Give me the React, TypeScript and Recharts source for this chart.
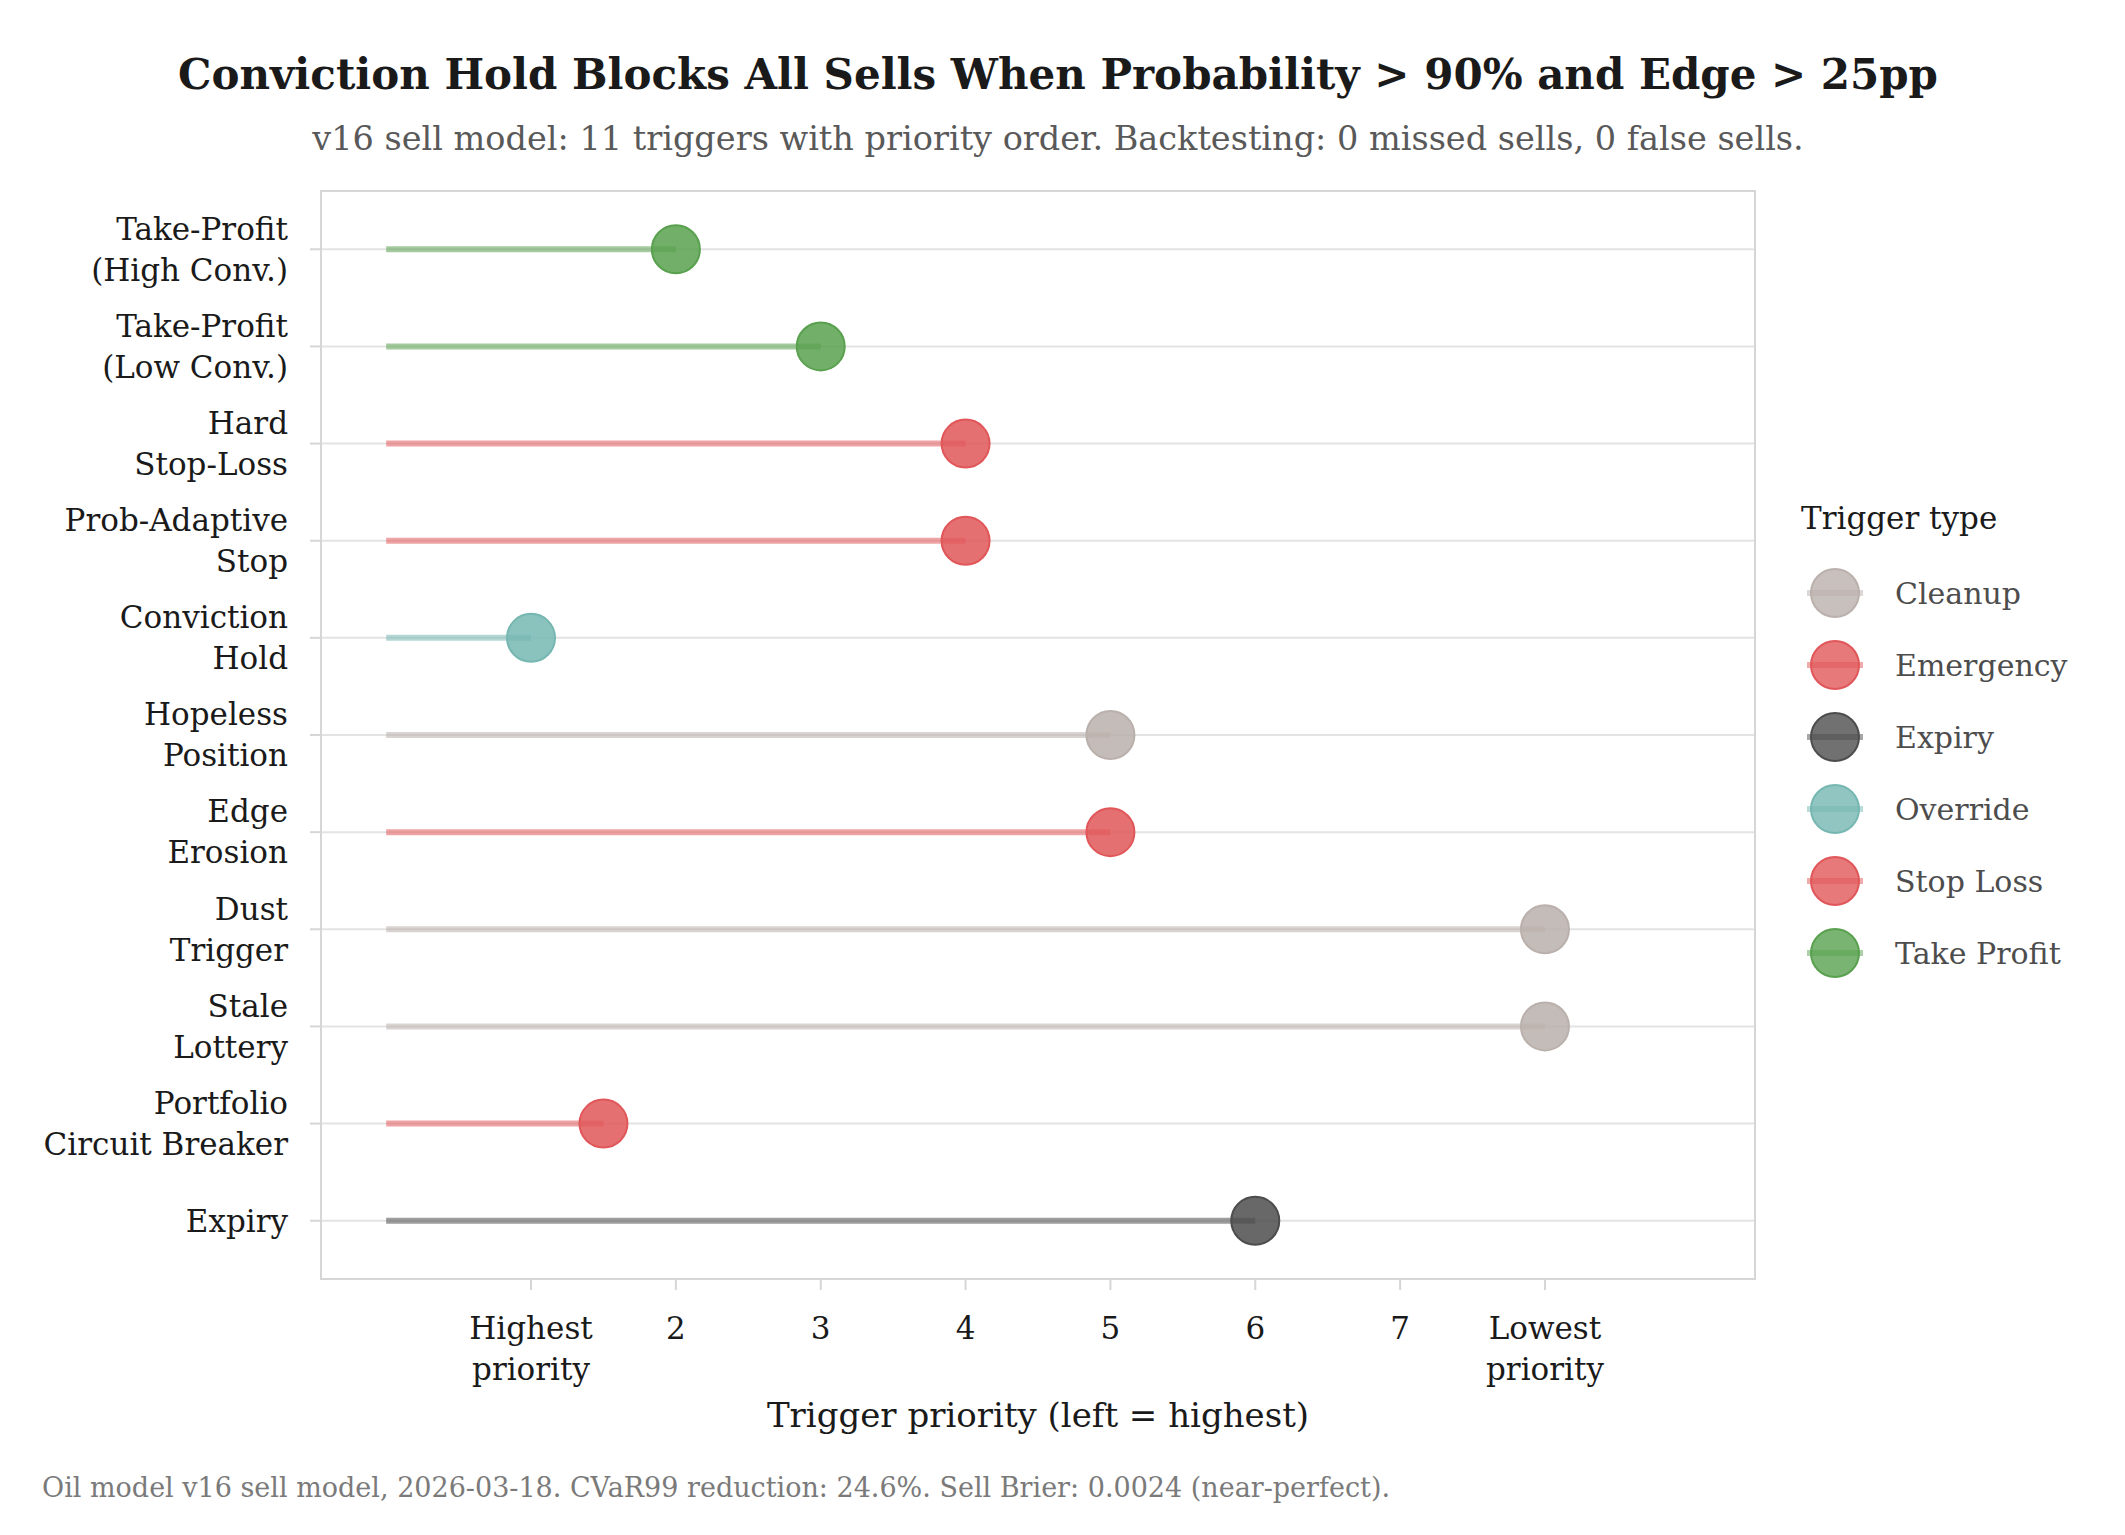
import React from "react"
import { CartesianGrid, ReferenceArea, Scatter, ScatterChart, XAxis, YAxis } from "recharts"

const triggerLabels = [
  "Take-Profit\n(High Conv.)",
  "Take-Profit\n(Low Conv.)",
  "Hard\nStop-Loss",
  "Prob-Adaptive\nStop",
  "Conviction\nHold",
  "Hopeless\nPosition",
  "Edge\nErosion",
  "Dust\nTrigger",
  "Stale\nLottery",
  "Portfolio\nCircuit Breaker",
  "Expiry",
]
const priorities = [2, 3, 4, 4, 1, 5, 5, 8, 8, 1.5, 6]
const triggerTypes = [
  "Take Profit",
  "Take Profit",
  "Stop Loss",
  "Stop Loss",
  "Override",
  "Cleanup",
  "Stop Loss",
  "Cleanup",
  "Cleanup",
  "Emergency",
  "Expiry",
]

const typeNames = ["Cleanup", "Emergency", "Expiry", "Override", "Stop Loss", "Take Profit"]
const typeColors = ["#BAB0AC", "#E15759", "#4D4D4D", "#76B7B2", "#E15759", "#59A14F"]

const xTicks = [1, 2, 3, 4, 5, 6, 7, 8]
const xTickLabels = ["Highest\npriority", "2", "3", "4", "5", "6", "7", "Lowest\npriority"]
const rowTicks = triggerLabels.map((_, i) => i + 1)

const FONT = "'DejaVu Serif', 'Liberation Serif', serif"

const colorOf = (t: string) => typeColors[typeNames.indexOf(t)]

const YTick = (props: any) => {
  const { x, y, payload } = props
  const lines = triggerLabels[payload.value - 1].split("\n")
  const lh = 41
  const start = y - ((lines.length - 1) * lh) / 2
  return (
    <text x={x} y={start} textAnchor="end" fontSize={31} fill="#1a1a1a" fontFamily={FONT}>
      {lines.map((l, i) => (
        <tspan key={i} x={x} dy={i === 0 ? "0.35em" : lh}>
          {l}
        </tspan>
      ))}
    </text>
  )
}

const XTick = (props: any) => {
  const { x, y, payload } = props
  const lines = xTickLabels[xTicks.indexOf(payload.value)].split("\n")
  return (
    <text x={x} y={y} textAnchor="middle" fontSize={31} fill="#1a1a1a" fontFamily={FONT}>
      {lines.map((l, i) => (
        <tspan key={i} x={x} dy={i === 0 ? "0.71em" : 41}>
          {l}
        </tspan>
      ))}
    </text>
  )
}

const LegendBox = () => (
  <div style={{ position: "absolute", left: 1801, top: 498, fontFamily: FONT }}>
    <div style={{ fontSize: 31, color: "#1a1a1a", height: 40, lineHeight: "40px", marginBottom: 19 }}>
      Trigger type
    </div>
    {typeNames.map((t, i) => (
      <div key={t} style={{ display: "flex", alignItems: "center", height: 72 }}>
        <svg width={62} height={60} style={{ marginLeft: 3 }}>
          <line x1={3} x2={59} y1={30} y2={30} stroke={typeColors[i]} strokeOpacity={0.5} strokeWidth={6} />
          <circle cx={31} cy={30} r={24} fill={typeColors[i]} fillOpacity={0.8} stroke={typeColors[i]} strokeWidth={2} />
        </svg>
        <span style={{ marginLeft: 29, fontSize: 30, color: "#4d4d4d" }}>{t}</span>
      </div>
    ))}
  </div>
)

export default function App() {
  const segments = priorities.map((p, i) => [
    { pos: 0, row: i + 1 },
    { pos: p, row: i + 1 },
  ])
  const pointsByType = typeNames.map((t) =>
    priorities
      .map((p, i) => ({ pos: p, row: i + 1, type: triggerTypes[i] }))
      .filter((d) => d.type === t)
  )

  return (
    <div style={{ position: "absolute", left: 0, top: 0, width: 2125, height: 1535, background: "#fff" }}>
      <div
        style={{
          position: "absolute",
          top: 50,
          left: 0,
          width: 2116,
          textAlign: "center",
          fontFamily: FONT,
          fontWeight: "bold",
          fontSize: 42,
          color: "#1a1a1a",
        }}
      >
        Conviction Hold Blocks All Sells When Probability &gt; 90% and Edge &gt; 25pp
      </div>
      <div
        style={{
          position: "absolute",
          top: 119,
          left: 0,
          width: 2116,
          textAlign: "center",
          fontFamily: FONT,
          fontSize: 33.5,
          color: "#595959",
        }}
      >
        v16 sell model: 11 triggers with priority order. Backtesting: 0 missed sells, 0 false sells.
      </div>

      <div style={{ position: "absolute", left: 0, top: 0 }}>
        <ScatterChart width={2125} height={1535} margin={{ top: 191, right: 370, bottom: 106, left: 0 }}>
          <CartesianGrid vertical={false} stroke="#e3e3e3" strokeWidth={2} />
          <ReferenceArea
            x1={-0.45}
            x2={9.45}
            y1={0.4}
            y2={11.6}
            fill="none"
            stroke="#d6d6d6"
            strokeWidth={2}
            ifOverflow="visible"
          />
          <XAxis
            type="number"
            dataKey="pos"
            domain={[-0.45, 9.45]}
            ticks={xTicks}
            height={150}
            axisLine={false}
            tickLine={{ stroke: "#d6d6d6", strokeWidth: 2 }}
            tickSize={11}
            tickMargin={27}
            tick={<XTick />}
            interval={0}
            allowDataOverflow
          />
          <YAxis
            type="number"
            dataKey="row"
            domain={[0.4, 11.6]}
            reversed
            ticks={rowTicks}
            width={321}
            axisLine={false}
            tickLine={{ stroke: "#d6d6d6", strokeWidth: 2 }}
            tickSize={11}
            tickMargin={22}
            tick={<YTick />}
            interval={0}
            allowDataOverflow
          />
          {segments.map((seg, i) => (
            <Scatter
              key={"seg" + i}
              data={seg}
              line={{ stroke: colorOf(triggerTypes[i]), strokeWidth: 6, strokeOpacity: 0.55 }}
              shape={() => <g />}
              isAnimationActive={false}
              legendType="none"
            />
          ))}
          {pointsByType.map((pts, i) => (
            <Scatter
              key={typeNames[i]}
              name={typeNames[i]}
              data={pts}
              isAnimationActive={false}
              shape={(p: any) => (
                <circle
                  cx={p.cx}
                  cy={p.cy}
                  r={24}
                  fill={typeColors[i]}
                  fillOpacity={0.85}
                  stroke={typeColors[i]}
                  strokeWidth={2}
                />
              )}
            />
          ))}
        </ScatterChart>
      </div>

      <LegendBox />

      <div
        style={{
          position: "absolute",
          top: 1395,
          left: 321,
          width: 1434,
          textAlign: "center",
          fontFamily: FONT,
          fontSize: 34,
          color: "#1a1a1a",
        }}
      >
        Trigger priority (left = highest)
      </div>
      <div
        style={{
          position: "absolute",
          top: 1472,
          left: 42,
          fontFamily: FONT,
          fontSize: 27,
          color: "#7a7a7a",
        }}
      >
        Oil model v16 sell model, 2026-03-18. CVaR99 reduction: 24.6%. Sell Brier: 0.0024 (near-perfect).
      </div>
    </div>
  )
}
